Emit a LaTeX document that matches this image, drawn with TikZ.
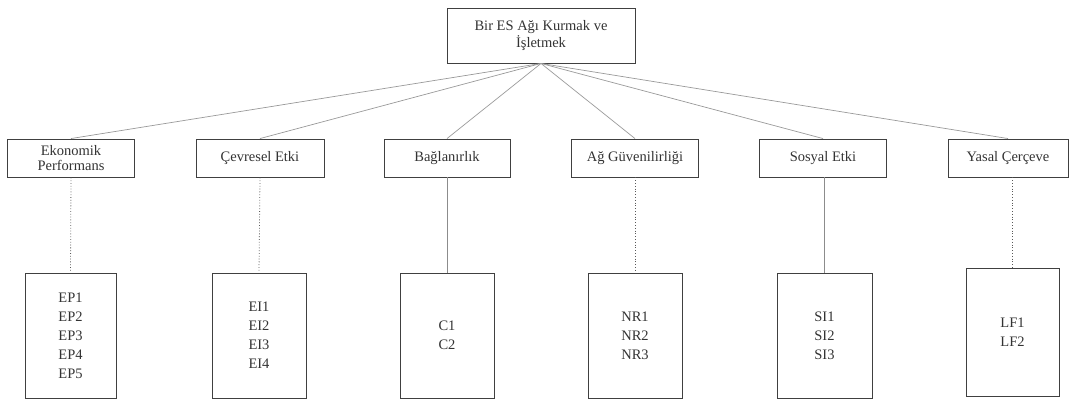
\documentclass[tikz,border=0pt]{standalone}
\usepackage{fontspec}
\setmainfont{Liberation Serif}
\begin{document}
\begin{tikzpicture}[x=1pt,y=-1pt,
  box/.style={draw=black!75,line width=0.9pt,rectangle,inner sep=0pt,align=center,
    font=\fontsize{14.5}{15}\selectfont,text=black!80},
  listbox/.style={box,font=\fontsize{14.5}{19}\selectfont},
  fan/.style={draw=black!40,line width=0.7pt},
  solidlink/.style={draw=black!45,line width=0.8pt},
  dotlink/.style={draw=black!65,line width=0.8pt,dotted}]
\useasboundingbox (0,0) rectangle (1072,400);

% root
\node[box,minimum width=188pt,minimum height=55pt] (root) at (541,35.5)
  {Bir ES Ağı Kurmak ve\\İşletmek};

% criteria
\node[box,minimum width=127pt,minimum height=38pt] (ep) at (71,158) {Ekonomik\\Performans};
\node[box,minimum width=128pt,minimum height=38pt] (ei) at (260,158) {Çevresel Etki};
\node[box,minimum width=126pt,minimum height=38pt] (c)  at (447,158) {Bağlanırlık};
\node[box,minimum width=127pt,minimum height=38pt] (nr) at (635,158) {Ağ Güvenilirliği};
\node[box,minimum width=127pt,minimum height=38pt] (si) at (823,158) {Sosyal Etki};
\node[box,minimum width=120pt,minimum height=38pt] (lf) at (1008,158) {Yasal Çerçeve};

% sub-criteria
\node[listbox,minimum width=91pt,minimum height=125pt] (epl) at (70.5,335.5) {EP1\\EP2\\EP3\\EP4\\EP5};
\node[listbox,minimum width=94pt,minimum height=125pt] (eil) at (259,335.5) {EI1\\EI2\\EI3\\EI4};
\node[listbox,minimum width=94pt,minimum height=125pt] (cl)  at (447,335.5) {C1\\C2};
\node[listbox,minimum width=94pt,minimum height=125pt] (nrl) at (635,335.5) {NR1\\NR2\\NR3};
\node[listbox,minimum width=95pt,minimum height=125pt] (sil) at (824.5,335.5) {SI1\\SI2\\SI3};
\node[listbox,minimum width=93pt,minimum height=128pt] (lfl) at (1012.5,332) {LF1\\LF2};

% fan from root to criteria
\foreach \n in {ep,ei,c,nr,si,lf}
  \draw[fan] (root.south) -- (\n.north);

% criteria to sub-criteria
\draw[dotlink] (ep.south) -- (epl.north);
\draw[dotlink] (ei.south) -- (eil.north);
\draw[solidlink] (c.south) -- (cl.north);
\draw[dotlink] (nr.south) -- (nrl.north);
\draw[solidlink] (si.south -| sil.north) -- (sil.north);
\draw[dotlink] (lf.south -| lfl.north) -- (lfl.north);
\end{tikzpicture}
\end{document}
